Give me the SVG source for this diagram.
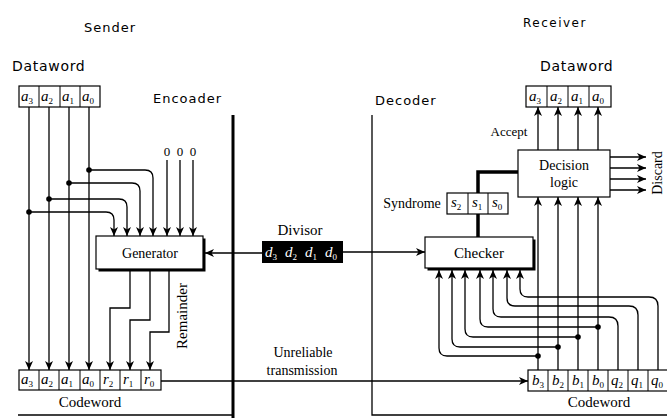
<svg xmlns="http://www.w3.org/2000/svg" width="667" height="418" viewBox="0 0 667 418">
<style>
.hdr{font-family:"DejaVu Sans",sans-serif;font-size:13px;letter-spacing:1px;fill:#000}
.lbl{font-family:"Liberation Serif",serif;font-size:14px;fill:#000}
.cell{font-family:"Liberation Serif",serif;font-style:italic;font-size:15px;fill:#000}
.sub{font-size:9px;font-style:normal}
.box{fill:#fff;stroke:#000;stroke-width:1.2}
.ln{fill:none;stroke:#000;stroke-width:1.3}
.thick{fill:none;stroke:#000;stroke-width:3.5}
.dot{fill:#000}
</style>
<defs>
<marker id="ah" markerUnits="userSpaceOnUse" markerWidth="9" markerHeight="8" refX="9" refY="4" orient="auto">
<path d="M0,0 L9,4 L0,8 L2.5,4 z" fill="#000"/>
</marker>
</defs>
<rect width="667" height="418" fill="#fff"/>

<!-- headers -->
<text class="hdr" x="84" y="32">Sender</text>
<text class="hdr" x="12" y="71" style="font-size:14px;letter-spacing:0.7px">Dataword</text>
<text class="hdr" x="153" y="103">Encoader</text>
<text class="hdr" x="523" y="27" style="font-size:12px;letter-spacing:1.5px">Receiver</text>
<text class="hdr" x="540" y="71" style="font-size:14px;letter-spacing:0.7px">Dataword</text>
<text class="hdr" x="375" y="105">Decoder</text>

<!-- frame lines -->
<g id="frames">
<line x1="233" y1="115" x2="233" y2="418" stroke="#000" stroke-width="3"/>
<path d="M18,415 H233" class="ln"/>
<path d="M372,115 V415 H667" class="ln"/>
</g>

<!-- sender dataword -->
<g id="sender-dataword">
<rect class="box" x="19" y="86" width="81" height="21"/>
<line x1="39" y1="86" x2="39" y2="107" stroke="#000"/>
<line x1="60" y1="86" x2="60" y2="107" stroke="#000"/>
<line x1="80" y1="86" x2="80" y2="107" stroke="#000"/>
<text class="cell" x="21" y="101">a<tspan class="sub" dy="3">3</tspan></text>
<text class="cell" x="41" y="101">a<tspan class="sub" dy="3">2</tspan></text>
<text class="cell" x="62" y="101">a<tspan class="sub" dy="3">1</tspan></text>
<text class="cell" x="82" y="101">a<tspan class="sub" dy="3">0</tspan></text>
</g>

<g id="zeros">
<text class="lbl" x="167" y="156" text-anchor="middle" style="font-size:13px">0</text>
<text class="lbl" x="180" y="156" text-anchor="middle" style="font-size:13px">0</text>
<text class="lbl" x="193" y="156" text-anchor="middle" style="font-size:13px">0</text>
</g>

<!-- generator -->
<g id="generator">
<rect x="98.5" y="238.5" width="107" height="33" fill="#000"/>
<rect class="box" x="96" y="236" width="107" height="33"/>
<text class="lbl" x="150" y="258" text-anchor="middle">Generator</text>
</g>

<text class="lbl" transform="translate(187,316) rotate(-90)" text-anchor="middle" style="font-size:15px">Remainder</text>

<!-- sender codeword -->
<g id="sender-codeword">
<rect class="box" x="19" y="370" width="142" height="20"/>
<line x1="39" y1="370" x2="39" y2="390" stroke="#000"/>
<line x1="59" y1="370" x2="59" y2="390" stroke="#000"/>
<line x1="80" y1="370" x2="80" y2="390" stroke="#000"/>
<line x1="100" y1="370" x2="100" y2="390" stroke="#000"/>
<line x1="120" y1="370" x2="120" y2="390" stroke="#000"/>
<line x1="141" y1="370" x2="141" y2="390" stroke="#000"/>
<text class="cell" x="21" y="384">a<tspan class="sub" dy="3">3</tspan></text>
<text class="cell" x="41" y="384">a<tspan class="sub" dy="3">2</tspan></text>
<text class="cell" x="61" y="384">a<tspan class="sub" dy="3">1</tspan></text>
<text class="cell" x="82" y="384">a<tspan class="sub" dy="3">0</tspan></text>
<text class="cell" x="103" y="384">r<tspan class="sub" dy="3">2</tspan></text>
<text class="cell" x="123" y="384">r<tspan class="sub" dy="3">1</tspan></text>
<text class="cell" x="144" y="384">r<tspan class="sub" dy="3">0</tspan></text>
<text class="lbl" x="90" y="407" text-anchor="middle" style="font-size:15px">Codeword</text>
</g>

<!-- divisor -->
<g id="divisor">
<text class="lbl" x="300" y="235" text-anchor="middle" style="font-size:15px">Divisor</text>
<rect x="262" y="241" width="81" height="22" fill="#000"/>
<text class="cell" x="265" y="257" style="fill:#fff">d<tspan class="sub" dy="3">3</tspan></text>
<text class="cell" x="285" y="257" style="fill:#fff">d<tspan class="sub" dy="3">2</tspan></text>
<text class="cell" x="305" y="257" style="fill:#fff">d<tspan class="sub" dy="3">1</tspan></text>
<text class="cell" x="325" y="257" style="fill:#fff">d<tspan class="sub" dy="3">0</tspan></text>
</g>

<text class="lbl" x="303" y="357" text-anchor="middle">Unreliable</text>
<text class="lbl" x="302" y="375" text-anchor="middle">transmission</text>

<!-- receiver dataword -->
<g id="receiver-dataword">
<rect class="box" x="526" y="86" width="85" height="21"/>
<line x1="547" y1="86" x2="547" y2="107" stroke="#000"/>
<line x1="568" y1="86" x2="568" y2="107" stroke="#000"/>
<line x1="589" y1="86" x2="589" y2="107" stroke="#000"/>
<text class="cell" x="529" y="101">a<tspan class="sub" dy="3">3</tspan></text>
<text class="cell" x="550" y="101">a<tspan class="sub" dy="3">2</tspan></text>
<text class="cell" x="571" y="101">a<tspan class="sub" dy="3">1</tspan></text>
<text class="cell" x="592" y="101">a<tspan class="sub" dy="3">0</tspan></text>
</g>

<text class="lbl" x="509" y="136" text-anchor="middle" style="font-size:13px">Accept</text>

<!-- decision logic -->
<g id="decision-logic">
<rect class="box" x="518" y="150" width="92" height="47"/>
<text class="lbl" x="564" y="170" text-anchor="middle">Decision</text>
<text class="lbl" x="564" y="187" text-anchor="middle">logic</text>
</g>
<text class="lbl" transform="translate(662,173) rotate(-90)" text-anchor="middle" style="font-size:14px">Discard</text>

<!-- syndrome -->
<g id="syndrome">
<text class="lbl" x="412" y="208" text-anchor="middle">Syndrome</text>
<rect class="box" x="447" y="193" width="61" height="21"/>
<line x1="468" y1="193" x2="468" y2="214" stroke="#000"/>
<line x1="488" y1="193" x2="488" y2="214" stroke="#000"/>
<text class="cell" x="451" y="207">s<tspan class="sub" dy="3">2</tspan></text>
<text class="cell" x="472" y="207">s<tspan class="sub" dy="3">1</tspan></text>
<text class="cell" x="492" y="207">s<tspan class="sub" dy="3">0</tspan></text>
</g>

<!-- checker -->
<g id="checker">
<rect x="427.5" y="239.5" width="108" height="31" fill="#000"/>
<rect class="box" x="425" y="237" width="108" height="31"/>
<text class="lbl" x="479" y="258" text-anchor="middle" style="font-size:15px">Checker</text>
</g>

<!-- receiver codeword -->
<g id="receiver-codeword">
<rect class="box" x="528" y="370" width="141" height="21"/>
<line x1="548" y1="370" x2="548" y2="391" stroke="#000"/>
<line x1="568" y1="370" x2="568" y2="391" stroke="#000"/>
<line x1="588" y1="370" x2="588" y2="391" stroke="#000"/>
<line x1="608" y1="370" x2="608" y2="391" stroke="#000"/>
<line x1="628" y1="370" x2="628" y2="391" stroke="#000"/>
<line x1="648" y1="370" x2="648" y2="391" stroke="#000"/>
<text class="cell" x="532" y="385">b<tspan class="sub" dy="3">3</tspan></text>
<text class="cell" x="552" y="385">b<tspan class="sub" dy="3">2</tspan></text>
<text class="cell" x="572" y="385">b<tspan class="sub" dy="3">1</tspan></text>
<text class="cell" x="592" y="385">b<tspan class="sub" dy="3">0</tspan></text>
<text class="cell" x="611" y="385">q<tspan class="sub" dy="3">2</tspan></text>
<text class="cell" x="631" y="385">q<tspan class="sub" dy="3">1</tspan></text>
<text class="cell" x="651" y="385">q<tspan class="sub" dy="3">0</tspan></text>
<text class="lbl" x="599" y="407" text-anchor="middle" style="font-size:15px">Codeword</text>
</g>

<!-- connectors -->
<g id="connectors">
<path class="ln" d="M29,107 V370" marker-end="url(#ah)"/>
<path class="ln" d="M49,107 V370" marker-end="url(#ah)"/>
<path class="ln" d="M69,107 V370" marker-end="url(#ah)"/>
<path class="ln" d="M89,107 V370" marker-end="url(#ah)"/>
<path class="ln" d="M89,170 H145 Q153,170 153,178 V236" marker-end="url(#ah)"/>
<path class="ln" d="M69,183 H132 Q140,183 140,191 V236" marker-end="url(#ah)"/>
<path class="ln" d="M49,199 H119 Q127,199 127,207 V236" marker-end="url(#ah)"/>
<path class="ln" d="M29,212 H106 Q114,212 114,220 V236" marker-end="url(#ah)"/>
<circle class="dot" cx="89" cy="170" r="2.8"/>
<circle class="dot" cx="69" cy="183" r="2.8"/>
<circle class="dot" cx="49" cy="199" r="2.8"/>
<circle class="dot" cx="29" cy="212" r="2.8"/>
<path class="ln" d="M167,160 V236" marker-end="url(#ah)"/>
<path class="ln" d="M180,160 V236" marker-end="url(#ah)"/>
<path class="ln" d="M193,160 V236" marker-end="url(#ah)"/>
<path class="ln" d="M130,271 V308 H110 V370" marker-end="url(#ah)"/>
<path class="ln" d="M150,271 V320 H130 V370" marker-end="url(#ah)"/>
<path class="ln" d="M169,271 V332 H150 V370" marker-end="url(#ah)"/>
<path class="ln" d="M262,253 H205" marker-end="url(#ah)"/>
<path class="ln" d="M343,252 H425" marker-end="url(#ah)"/>
<path class="ln" d="M161,381 H528" marker-end="url(#ah)"/>
<path class="ln" d="M538,150 V107" marker-end="url(#ah)"/>
<path class="ln" d="M558,150 V107" marker-end="url(#ah)"/>
<path class="ln" d="M578,150 V107" marker-end="url(#ah)"/>
<path class="ln" d="M598,150 V107" marker-end="url(#ah)"/>
<path class="ln" d="M610,157 H646" marker-end="url(#ah)"/>
<path class="ln" d="M610,168 H646" marker-end="url(#ah)"/>
<path class="ln" d="M610,179 H646" marker-end="url(#ah)"/>
<path class="ln" d="M610,190 H646" marker-end="url(#ah)"/>
<path class="thick" d="M518,172 H478 V193"/>
<path class="thick" d="M478,214 V237"/>
<path class="ln" d="M538,370 V197" marker-end="url(#ah)"/>
<path class="ln" d="M558,370 V197" marker-end="url(#ah)"/>
<path class="ln" d="M578,370 V197" marker-end="url(#ah)"/>
<path class="ln" d="M598,370 V197" marker-end="url(#ah)"/>
<path class="ln" d="M538,356 H447 Q439,356 439,348 V270" marker-end="url(#ah)"/>
<path class="ln" d="M558,347 H460 Q452,347 452,339 V270" marker-end="url(#ah)"/>
<path class="ln" d="M578,337 H473 Q465,337 465,329 V270" marker-end="url(#ah)"/>
<path class="ln" d="M598,327 H488 Q480,327 480,319 V270" marker-end="url(#ah)"/>
<path class="ln" d="M618,370 V326 Q618,317 609,317 H501 Q493,317 493,309 V270" marker-end="url(#ah)"/>
<path class="ln" d="M638,370 V315 Q638,306 629,306 H515 Q507,306 507,298 V270" marker-end="url(#ah)"/>
<path class="ln" d="M658,370 V306 Q658,297 649,297 H528 Q520,297 520,289 V270" marker-end="url(#ah)"/>
<circle class="dot" cx="538" cy="356" r="2.8"/>
<circle class="dot" cx="558" cy="347" r="2.8"/>
<circle class="dot" cx="578" cy="337" r="2.8"/>
<circle class="dot" cx="598" cy="327" r="2.8"/>
</g>
</svg>
